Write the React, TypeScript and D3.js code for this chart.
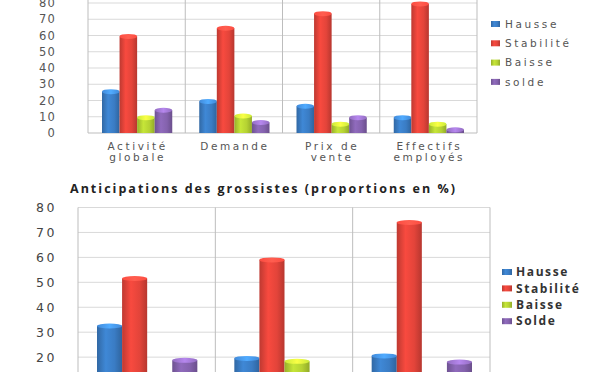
import React from "react";
import * as d3 from "d3";

const series = ["Hausse", "Stabilité", "Baisse", "solde"];
const seriesBottom = ["Hausse", "Stabilité", "Baisse", "Solde"];
const colors = ["#3a7cc4", "#e3443a", "#b5d233", "#8462ad"];

const topCategories = [["Activité", "globale"], ["Demande"], ["Prix de", "vente"], ["Effectifs", "employés"]];
const topHausse = [27, 21, 18, 11];
const topStabilite = [61, 66, 75, 81];
const topBaisse = [11, 12, 7, 7];
const topSolde = [15.5, 8, 11, 3.5];
const topTicks = [0, 10, 20, 30, 40, 50, 60, 70, 80];

const bottomTitle = "Anticipations des grossistes (proportions en %)";
const bottomCategories = ["A", "B", "C"];
const bottomHausse = [33.5, 20.5, 21.5];
const bottomStabilite = [52.5, 60, 75];
const bottomBaisse = [12, 19.3, 12];
const bottomSolde = [19.7, 13, 19];
const bottomTicks = [20, 30, 40, 50, 60, 70, 80];

const gridColor = "#d9d9d9";
const axisColor = "#bdbdbd";

function Bar({ x, y, w, h, i }: { x: number; y: number; w: number; h: number; i: number }) {
  if (h <= 0) return null;
  const ry = Math.min(2.5, h / 2);
  return (
    <g>
      <rect x={x} y={y + ry} width={w} height={h - ry} fill={`url(#grad${i})`} />
      <ellipse cx={x + w / 2} cy={y + ry} rx={w / 2} ry={ry} fill={`url(#cap${i})`} />
    </g>
  );
}

function TopChart() {
  const left = 88, right = 477, bottom = 133;
  const x = d3.scaleBand<number>().domain(d3.range(topCategories.length)).range([left, right]);
  const bw = x.bandwidth();
  const xs = d3.scaleBand<number>().domain(d3.range(4)).range([14, bw - 13]).padding(0);
  const y = d3.scaleLinear().domain([0, 80]).range([bottom, 3]);
  const vals = [topHausse, topStabilite, topBaisse, topSolde];
  const labelStyle = { fontFamily: "DejaVu Sans", fontSize: 10.5, fill: "#555", letterSpacing: 2.6 };
  return (
    <g>
      {[...topTicks, 90].map((t) => (
        <line key={t} x1={left} x2={right} y1={y(t)} y2={y(t)} stroke={t === 0 ? axisColor : gridColor} />
      ))}
      {d3.range(topCategories.length + 1).map((k) => {
        const xx = k === topCategories.length ? right : (x(k) as number);
        return <line key={k} x1={xx} x2={xx} y1={y(90)} y2={bottom} stroke={axisColor} />;
      })}
      {topTicks.map((t) => (
        <text key={t} x={56} y={y(t)} dy="0.35em" textAnchor="end" fontFamily="DejaVu Sans" fontSize={11.5} fill="#555" letterSpacing={1.2}>
          {t}
        </text>
      ))}
      {topCategories.map((c, ci) =>
        vals.map((v, si) => (
          <Bar key={`${ci}-${si}`} i={si} x={(x(ci) as number) + (xs(si) as number)} w={xs.bandwidth()} y={y(v[ci])} h={bottom - y(v[ci])} />
        ))
      )}
      {topCategories.map((c, ci) =>
        c.map((line, li) => (
          <text key={`${ci}-${li}`} x={(x(ci) as number) + bw / 2 + 1} y={146 + li * 11} dy="0.35em" textAnchor="middle" style={labelStyle}>
            {line}
          </text>
        ))
      )}
      {series.map((s, si) => (
        <g key={s} transform={`translate(491,${24 + si * 19.3})`}>
          <rect x={0} y={-3} width={9} height={6} fill={`url(#grad${si})`} />
          <text x={14} y={0} dy="0.35em" style={labelStyle}>
            {s}
          </text>
        </g>
      ))}
    </g>
  );
}

function BottomChart() {
  const left = 78, right = 490, bottom = 407;
  const x = d3.scaleBand<number>().domain(d3.range(bottomCategories.length)).range([left, right]);
  const bw = x.bandwidth();
  const xs = d3.scaleBand<number>().domain(d3.range(4)).range([19, bw - 18]).padding(0);
  const y = d3.scaleLinear().domain([0, 80]).range([bottom, 207.5]);
  const vals = [bottomHausse, bottomStabilite, bottomBaisse, bottomSolde];
  const ticksAll = [0, 10, ...bottomTicks];
  return (
    <g>
      <text x={70} y={189} dy="0.35em" fontFamily="Open Sans" fontWeight="bold" fontSize={12.5} fill="#222" textLength={385} lengthAdjust="spacing">
        {bottomTitle}
      </text>
      {ticksAll.map((t) => (
        <line key={t} x1={left} x2={right} y1={y(t)} y2={y(t)} stroke={gridColor} />
      ))}
      {d3.range(bottomCategories.length + 1).map((k) => {
        const xx = k === bottomCategories.length ? right : (x(k) as number);
        return <line key={k} x1={xx} x2={xx} y1={y(80)} y2={bottom} stroke={axisColor} />;
      })}
      {bottomTicks.map((t) => (
        <text key={t} x={57} y={y(t)} dy="0.35em" textAnchor="end" fontFamily="DejaVu Sans" fontSize={12.5} fill="#444" letterSpacing={2.5}>
          {t}
        </text>
      ))}
      {bottomCategories.map((c, ci) =>
        vals.map((v, si) => (
          <Bar key={`${ci}-${si}`} i={si} x={(x(ci) as number) + (xs(si) as number)} w={xs.bandwidth()} y={y(v[ci])} h={bottom - y(v[ci])} />
        ))
      )}
      {seriesBottom.map((s, si) => (
        <g key={s} transform={`translate(502,${272 + si * 16.4})`}>
          <rect x={0} y={-3} width={10} height={6} fill={`url(#grad${si})`} />
          <text x={14} y={0} dy="0.35em" fontFamily="Open Sans" fontWeight="bold" fontSize={12} fill="#333" letterSpacing={1.6}>
            {s}
          </text>
        </g>
      ))}
    </g>
  );
}

export default function App() {
  return (
    <svg width={600} height={372} style={{ position: "absolute", left: 0, top: 0, background: "#fff" }}>
      <defs>
        {colors.map((c, i) => {
          const base = d3.color(c)!;
          return (
            <React.Fragment key={i}>
              <linearGradient id={`grad${i}`} x1="0" x2="1" y1="0" y2="0">
                <stop offset="0%" stopColor={base.darker(0.5).toString()} />
                <stop offset="35%" stopColor={base.brighter(0.25).toString()} />
                <stop offset="70%" stopColor={c} />
                <stop offset="100%" stopColor={base.darker(0.6).toString()} />
              </linearGradient>
              <linearGradient id={`cap${i}`} x1="0" x2="1" y1="0" y2="0">
                <stop offset="0%" stopColor={base.brighter(0.3).toString()} />
                <stop offset="50%" stopColor={base.brighter(0.9).toString()} />
                <stop offset="100%" stopColor={base.brighter(0.3).toString()} />
              </linearGradient>
            </React.Fragment>
          );
        })}
      </defs>
      <rect width={600} height={372} fill="#fff" />
      <TopChart />
      <BottomChart />
    </svg>
  );
}
